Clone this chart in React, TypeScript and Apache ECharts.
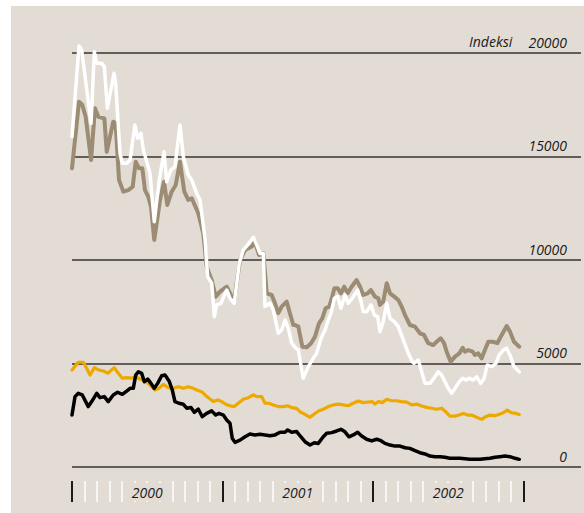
import React, { useEffect, useRef } from "react";
import * as echarts from "echarts";

// x = months since Jan 2000 (0..36), y = index value
const whiteSeries: [number, number][] = [
  [0, 15960], [0.56, 20340], [0.77, 20150], [1.52, 16600], [1.78, 20060], [1.97, 19500],
  [2.37, 19500], [2.58, 19340], [2.82, 17330], [3.35, 19020], [3.48, 18540], [3.83, 15150],
  [4.01, 14670], [4.36, 14670], [4.63, 14830], [5.02, 16520], [5.24, 15880], [5.5, 16120],
  [5.69, 15320], [6.22, 14190], [6.56, 11850], [6.96, 13870], [7.34, 15230], [7.55, 13780],
  [7.89, 14350], [8.21, 14510], [8.61, 16520], [8.88, 14990], [9.27, 14110], [9.55, 13870],
  [9.94, 13220], [10.21, 12900], [10.61, 11000], [10.82, 9190], [11.14, 8880], [11.35, 7260],
  [11.54, 7830], [11.88, 7910], [12.34, 8550], [12.6, 8150], [12.94, 7910], [13.34, 9840],
  [13.66, 10480], [14.01, 10730], [14.46, 11100], [14.73, 10730], [14.99, 10320], [15.26, 10320],
  [15.39, 7750], [15.79, 7910], [16.05, 7590], [16.45, 6460], [16.72, 6620], [16.99, 7100],
  [17.25, 6700], [17.52, 5980], [17.84, 5740], [18.05, 5650], [18.44, 4290], [18.84, 4850],
  [19.24, 5250], [19.51, 5490], [19.86, 6220], [20.18, 6620], [20.44, 7100], [20.65, 7420],
  [20.92, 8150], [21.19, 8230], [21.45, 7670], [21.77, 8310], [22.03, 7910], [22.35, 8150],
  [22.78, 8550], [23.05, 7990], [23.23, 7500], [23.5, 7500], [23.84, 7830], [24.11, 7340],
  [24.38, 7260], [24.56, 6540], [24.82, 7020], [25.1, 7910], [25.36, 7180], [25.7, 7020],
  [26.02, 6780], [26.42, 6140], [26.82, 5490], [27.14, 5090], [27.27, 5010], [27.62, 5170],
  [27.89, 4600], [28.15, 4040], [28.55, 4040], [28.87, 4290], [29.21, 4600], [29.48, 4440],
  [29.74, 4120], [30.01, 3800], [30.28, 3560], [30.54, 3800], [30.89, 4120], [31.16, 4290],
  [31.42, 4200], [31.68, 4290], [32.0, 4200], [32.27, 4360], [32.59, 4040], [32.85, 4250],
  [33.12, 4930], [33.47, 4850], [33.81, 5010], [34.07, 5410], [34.39, 5650], [34.66, 5740],
  [34.93, 5410], [35.25, 4850], [35.67, 4600]
];

const taupeSeries: [number, number][] = [
  [0, 14430], [0.56, 17650], [0.82, 17490], [1.09, 16920], [1.52, 14830], [1.83, 17330],
  [2.1, 16920], [2.58, 16840], [2.77, 15230], [3.29, 16680], [3.48, 16600], [3.75, 13870],
  [4.09, 13300], [4.49, 13380], [4.84, 13540], [5.08, 14750], [5.34, 14430], [5.61, 14430],
  [5.82, 13380], [6.08, 13060], [6.3, 12580], [6.56, 10970], [7.02, 12900], [7.34, 13780],
  [7.6, 12660], [7.95, 13300], [8.27, 13620], [8.61, 14750], [8.96, 13300], [9.27, 12900],
  [9.55, 12980], [10.07, 12260], [10.47, 11290], [10.74, 9680], [11.14, 9030], [11.46, 8230],
  [11.8, 8470], [12.34, 8710], [12.74, 8230], [12.94, 8070], [13.4, 10000], [13.8, 10480],
  [14.33, 10650], [14.59, 10890], [14.91, 10240], [15.26, 10320], [15.53, 8390], [15.93, 8310],
  [16.19, 7910], [16.45, 7430], [16.72, 7750], [17.12, 7990], [17.38, 7430], [17.65, 6860],
  [17.78, 6860], [18.05, 6780], [18.37, 5810], [18.72, 5780], [19.06, 5980], [19.38, 6300],
  [19.7, 6940], [19.96, 7180], [20.23, 7670], [20.52, 7750], [20.76, 8230], [20.92, 8630],
  [21.19, 8630], [21.45, 8390], [21.71, 8710], [21.99, 8390], [22.3, 8710], [22.7, 9030],
  [22.97, 8710], [23.23, 8310], [23.58, 8390], [23.84, 8550], [24.16, 8230], [24.43, 8150],
  [24.56, 7830], [24.82, 7990], [25.1, 8880], [25.36, 8390], [25.7, 8230], [26.02, 8070],
  [26.29, 7750], [26.56, 7340], [26.95, 6860], [27.35, 6780], [27.75, 6460], [28.07, 6380],
  [28.41, 5980], [28.81, 5890], [29.08, 6050], [29.4, 6220], [29.67, 5980], [29.88, 5570],
  [30.2, 5090], [30.54, 5330], [30.89, 5490], [31.16, 5760], [31.34, 5570], [31.6, 5650],
  [31.95, 5570], [32.14, 5410], [32.4, 5490], [32.67, 5250], [32.93, 5650], [33.2, 6050],
  [33.55, 6050], [33.92, 5980], [34.27, 6380], [34.67, 6810], [34.93, 6540], [35.25, 6050],
  [35.67, 5810]
];

const orangeSeries: [number, number][] = [
  [0, 4690], [0.5, 5060], [0.9, 5060], [1.17, 4770], [1.44, 4440], [1.78, 4800], [2.1, 4690],
  [2.5, 4640], [2.85, 4530], [3.37, 4800], [3.69, 4530], [4.01, 4290], [4.36, 4320], [4.76, 4290],
  [5.08, 4360], [5.42, 4250], [5.82, 4160], [6.22, 3960], [6.62, 3720], [6.94, 3800], [7.28, 3990],
  [7.68, 3830], [8.08, 3800], [8.48, 3880], [8.88, 3800], [9.27, 3880], [9.67, 3800], [9.94, 3720],
  [10.34, 3640], [10.61, 3480], [10.93, 3320], [11.27, 3160], [11.62, 3240], [11.94, 3160],
  [12.26, 3030], [12.6, 2960], [12.94, 2920], [13.26, 3080], [13.66, 3270], [14.06, 3350],
  [14.46, 3480], [14.73, 3400], [15.13, 3400], [15.39, 3080], [15.71, 3080], [16.05, 3000],
  [16.45, 2920], [16.85, 2920], [17.2, 2960], [17.52, 2870], [17.92, 2835], [18.18, 2670],
  [18.58, 2540], [18.98, 2400], [19.32, 2560], [19.7, 2720], [20.04, 2790], [20.44, 2920],
  [20.84, 3000], [21.24, 3040], [21.63, 3000], [22.03, 2960], [22.43, 3080], [22.83, 3190],
  [23.23, 3110], [23.63, 3140], [23.95, 3160], [24.16, 3040], [24.43, 3160], [24.75, 3110],
  [25.1, 3270], [25.49, 3200], [25.89, 3200], [26.29, 3160], [26.69, 3130], [27.09, 3000],
  [27.49, 3040], [27.89, 2950], [28.29, 2880], [28.68, 2840], [29.08, 2790], [29.48, 2840],
  [29.8, 2670], [30.14, 2460], [30.54, 2460], [30.86, 2510], [31.2, 2590], [31.56, 2510],
  [31.87, 2510], [32.27, 2400], [32.67, 2300], [32.99, 2430], [33.33, 2510], [33.73, 2480],
  [34.13, 2560], [34.39, 2620], [34.71, 2750], [35.06, 2620], [35.38, 2590], [35.67, 2540]
];

const blackSeries: [number, number][] = [
  [0, 2510], [0.24, 3400], [0.5, 3560], [0.82, 3480], [1.09, 3160], [1.3, 2920], [1.57, 3160],
  [1.97, 3560], [2.23, 3350], [2.58, 3400], [2.89, 3160], [3.29, 3480], [3.64, 3610], [4.01, 3510],
  [4.36, 3670], [4.63, 3800], [4.89, 3800], [5.08, 4440], [5.29, 4600], [5.56, 4520], [5.77, 4120],
  [6.04, 4250], [6.3, 4040], [6.56, 3800], [6.83, 4040], [7.15, 4410], [7.42, 4440], [7.74, 4160],
  [8.0, 3720], [8.21, 3160], [8.53, 3080], [8.88, 3030], [9.15, 2840], [9.49, 2870], [9.75, 2640],
  [10.07, 2800], [10.39, 2430], [10.74, 2590], [11.14, 2710], [11.46, 2510], [11.72, 2590],
  [12.07, 2510], [12.34, 2270], [12.6, 2110], [12.78, 1390], [13.0, 1190], [13.4, 1300],
  [13.8, 1460], [14.19, 1590], [14.59, 1550], [14.99, 1580], [15.39, 1550], [15.79, 1510],
  [16.19, 1550], [16.59, 1680], [16.99, 1680], [17.2, 1790], [17.52, 1680], [17.92, 1710],
  [18.18, 1510], [18.58, 1220], [18.98, 1060], [19.32, 1170], [19.64, 1140], [20.04, 1460],
  [20.31, 1630], [20.71, 1660], [21.11, 1740], [21.45, 1820], [21.77, 1700], [22.09, 1460],
  [22.43, 1550], [22.78, 1680], [23.1, 1500], [23.5, 1340], [23.9, 1260], [24.3, 1340],
  [24.64, 1270], [24.96, 1140], [25.36, 1060], [25.76, 1010], [26.16, 1010], [26.56, 930],
  [26.95, 900], [27.35, 790], [27.75, 690], [28.15, 630], [28.55, 530], [28.95, 500], [29.35, 500],
  [29.74, 470], [30.14, 420], [30.94, 420], [31.74, 370], [32.54, 370], [32.93, 400], [33.33, 420],
  [33.73, 470], [34.13, 500], [34.53, 530], [34.93, 500], [35.33, 420], [35.67, 370]
];

const yearLabels: Record<number, string> = { 6: "2000", 18: "2001", 30: "2002" };
const yTicks = [0, 5000, 10000, 15000, 20000];

const BG = "#e2dcd4";
const FONT = "'Open Sans', 'Noto Sans', sans-serif";

export default function App() {
  const ref = useRef<HTMLDivElement>(null);
  useEffect(() => {
    if (!ref.current) return;
    const chart = echarts.init(ref.current, undefined, { renderer: "svg" });
    const top = 47;
    const height = 414;
    const left = 61;
    const lineSeries = (data: [number, number][], color: string, width: number, z: number) => ({
      type: "line",
      xAxisIndex: 0,
      yAxisIndex: 0,
      data,
      showSymbol: false,
      symbol: "none",
      clip: false,
      z,
      lineStyle: { color, width, join: "round", cap: "round" },
    });
    chart.setOption({
      animation: false,
      backgroundColor: BG,
      grid: [
        { left, top, width: 451.4, height },
        { left, top, width: 509, height },
      ],
      xAxis: [
        { type: "value", gridIndex: 0, min: 0, max: 36, show: false },
        {
          type: "value", gridIndex: 0, min: 0, max: 36, interval: 1, position: "bottom", offset: 14, z: 1,
          axisLine: { show: false }, splitLine: { show: false }, axisLabel: { show: false },
          axisTick: { show: true, length: 21, lineStyle: { color: "#ffffff", width: 1.5 } },
        },
        {
          type: "value", gridIndex: 0, min: 0, max: 36, interval: 12, position: "bottom", offset: 14, z: 3,
          axisLine: { show: false }, splitLine: { show: false }, axisLabel: { show: false },
          axisTick: { show: true, length: 21, lineStyle: { color: "#1a1a1a", width: 2 } },
        },
        {
          type: "value", gridIndex: 0, min: 0, max: 36, interval: 6, position: "bottom", offset: 14, z: 5,
          axisLine: { show: false }, splitLine: { show: false }, axisTick: { show: false },
          axisLabel: {
            show: true, margin: 3, showMinLabel: false, showMaxLabel: false,
            formatter: (v: number) => (yearLabels[v] ? `{y|${yearLabels[v]}}` : ""),
            rich: {
              y: {
                fontFamily: FONT, fontStyle: "italic", fontSize: 14, color: "#1a1a1a",
                backgroundColor: BG, padding: [2, 4, 2, 4], lineHeight: 16,
              },
            },
          },
        },
        { type: "value", gridIndex: 1, min: 0, max: 36, show: false },
      ],
      yAxis: [
        { type: "value", gridIndex: 0, min: 0, max: 20000, interval: 5000, show: false },
        {
          type: "value", gridIndex: 1, min: 0, max: 20000, interval: 5000, position: "right",
          axisLine: { show: false }, axisTick: { show: false },
          splitLine: { show: true, lineStyle: { color: "#37332f", width: 1.5 } },
          axisLabel: {
            inside: true, margin: 14, verticalAlign: "bottom", padding: [0, 0, 4, 0],
            fontFamily: FONT, fontStyle: "italic", fontSize: 14, color: "#1a1a1a",
            formatter: (v: number) => (yTicks.includes(v) ? String(v) : ""),
          },
        },
      ],
      graphic: [
        {
          type: "text", left: 458, top: 28, z: 10,
          style: { text: "Indeksi", font: `italic 14px ${FONT}`, fill: "#1a1a1a" },
        },
      ],
      series: [
        lineSeries(taupeSeries, "#9b8c73", 4, 2),
        lineSeries(whiteSeries, "#ffffff", 3.5, 3),
        lineSeries(orangeSeries, "#eda900", 3.2, 4),
        lineSeries(blackSeries, "#000000", 3.5, 5),
      ],
    });
    return () => chart.dispose();
  }, []);
  return (
    <div style={{ position: "absolute", left: 0, top: 0, width: 584, height: 513, background: "#ffffff" }}>
      <div ref={ref} style={{ position: "absolute", left: 11, top: 6, width: 573, height: 507 }} />
    </div>
  );
}
